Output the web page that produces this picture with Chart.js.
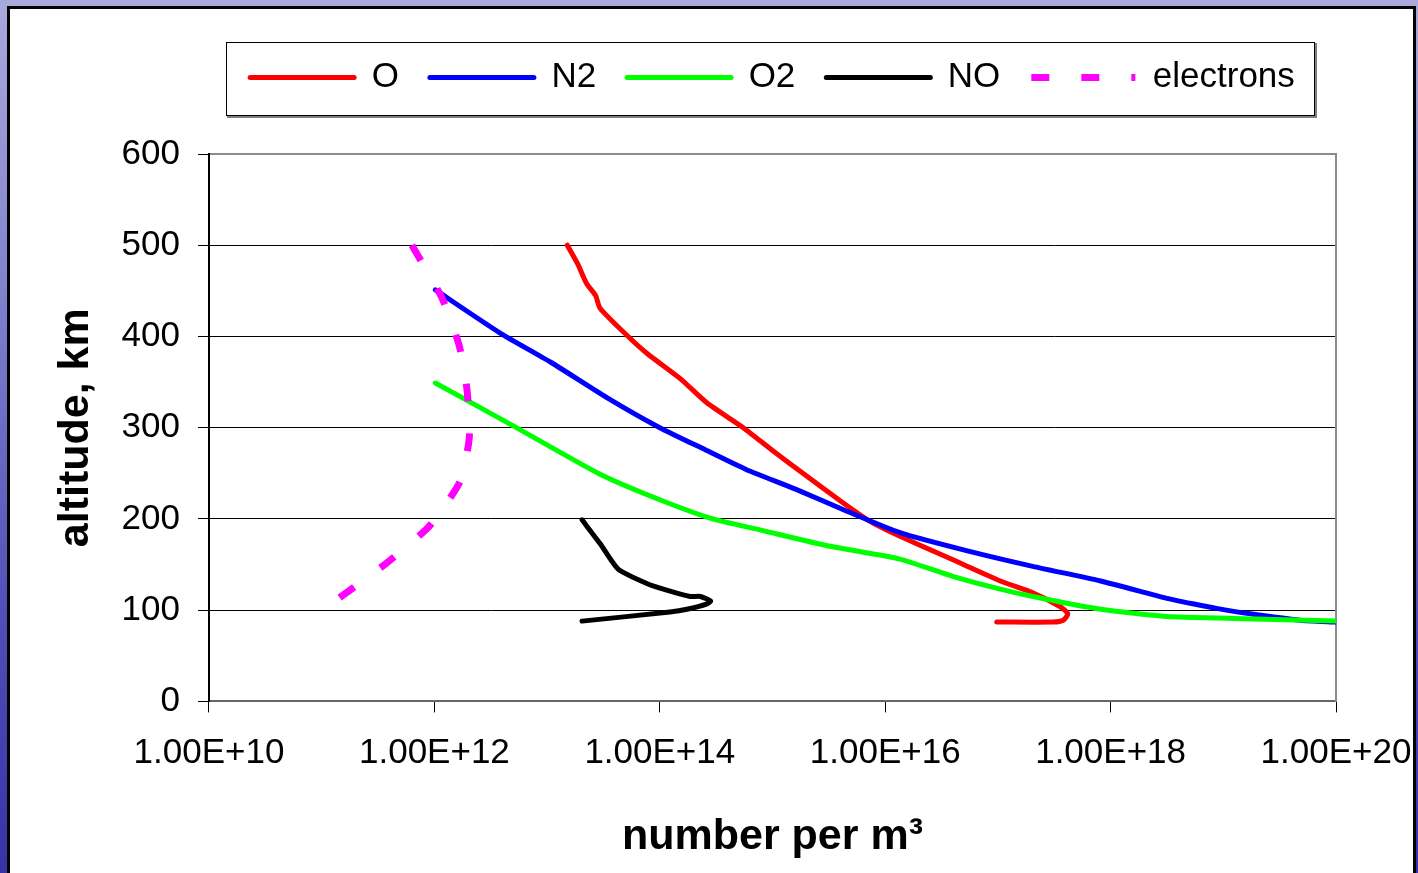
<!DOCTYPE html>
<html>
<head>
<meta charset="utf-8">
<title>Upper atmosphere composition</title>
<script src="https://cdn.jsdelivr.net/npm/chart.js@4.4.1/dist/chart.umd.min.js"></script>
<style>
  html, body { margin: 0; padding: 0; }
  body {
    width: 1418px;
    height: 873px;
    overflow: hidden;
    position: relative;
    background: linear-gradient(180deg, #a9a9dc 0%, #8585cf 30%, #5050b8 70%, #3434a6 100%);
  }
  #frame {
    position: absolute;
    left: 7px;
    top: 6px;
    width: 1403px;
    height: 900px;
    border: 3px solid #000;
    background: #fff;
    overflow: hidden;
  }
  #wrap {
    position: absolute;
    left: -10px;
    top: -9px;
    width: 1440px;
    height: 873px;
  }
</style>
</head>
<body>
<div id="frame">
  <div id="wrap"><canvas id="chart"></canvas></div>
</div>
<script>
'use strict';

// axis ticks
const xTickValues = [1e10, 1e12, 1e14, 1e16, 1e18, 1e20];
const xTickLabels = ['1.00E+10', '1.00E+12', '1.00E+14', '1.00E+16', '1.00E+18', '1.00E+20'];
const yTickValues = [0, 100, 200, 300, 400, 500, 600];

// number densities (per m^3) and altitudes (km)
const oDensity = [1.51e13, 1.86e13, 2.24e13, 2.69e13, 2.95e13, 5.13e13, 7.76e13, 1.51e14, 2.63e14, 5.50e14,
  1.00e15, 1.86e15, 3.98e15, 7.41e15, 1.35e16, 4.57e16, 1.05e17, 2.04e17, 3.55e17, 4.17e17, 3.80e17, 3.09e17, 9.77e16];
const oAltitude = [500, 480, 458, 445, 431, 401, 381, 354, 327, 300,
  275, 250, 220, 197, 181, 152, 132, 119, 104, 96, 89, 87, 87];

const n2Density = [1.02e12, 3.80e12, 1.07e13, 3.39e13, 1.00e14, 2.51e14, 5.89e14, 1.58e15, 4.47e15, 1.35e16,
  5.37e16, 2.04e17, 8.13e17, 3.16e18, 5.37e18, 8.71e18, 1.74e19, 4.79e19, 1.00e20];
const n2Altitude = [451, 404, 372, 333, 300, 276, 254, 233, 209, 185,
  165, 148, 132, 113, 107, 102, 96, 89, 87];

const o2Density = [1.02e12, 5.01e12, 2.95e13, 1.00e14, 2.95e14, 7.76e14, 3.24e15, 1.35e16, 3.98e16, 1.05e17,
  2.04e17, 8.13e17, 3.16e18, 1.23e19, 1.00e20];
const o2Altitude = [349, 302, 249, 221, 200, 188, 170, 156, 137, 123,
  115, 101, 93, 91, 88];

const noDensity = [2.04e13, 2.95e13, 4.27e13, 7.76e13, 1.15e14, 1.86e14, 2.29e14, 2.82e14, 2.63e14, 1.74e14, 1.23e14, 2.04e13];
const noAltitude = [199, 173, 145, 129, 122, 115, 115, 110, 107, 101, 98, 88];

const eDensity = [6.31e11, 1.17e12, 1.66e12, 1.95e12, 2.04e12, 1.70e12, 1.23e12, 8.71e11, 3.80e11, 1.38e11];
const eAltitude = [500, 442, 390, 341, 289, 242, 214, 190, 152, 112];

Chart.defaults.font.family = '"Liberation Sans", Arial, sans-serif';
Chart.defaults.color = '#000';

function toPoints(xs, ys) {
  return xs.map(function (x, i) { return { x: x, y: ys[i] }; });
}

function lineSet(label, color, xs, ys, order) {
  return {
    label: label,
    data: toPoints(xs, ys),
    borderColor: color,
    backgroundColor: color,
    borderWidth: 5,
    borderCapStyle: 'round',
    borderJoinStyle: 'round',
    pointRadius: 0,
    pointHoverRadius: 0,
    pointStyle: 'line',
    showLine: true,
    tension: 0.2,
    order: order,
  };
}

const electrons = lineSet('electrons', '#ff00ff', eDensity, eAltitude, 1);
electrons.borderWidth = 7;
electrons.borderDash = [18, 32];
electrons.borderDashOffset = 0;
electrons.borderCapStyle = 'butt';

// legend items take their look from the point style, so copy the line style back in
function legendLabels(chart) {
  const items = Chart.defaults.plugins.legend.labels.generateLabels(chart);
  items.forEach(function (item) {
    const ds = chart.data.datasets[item.datasetIndex];
    item.strokeStyle = ds.borderColor;
    item.lineWidth = ds.borderWidth;
    item.lineCap = ds.borderCapStyle;
    item.lineDash = ds.borderDash || [];
    item.lineDashOffset = ds.borderDashOffset || 0;
  });
  return items;
}

// box drawn round the legend, as in the spreadsheet original
const legendFrame = {
  id: 'legendFrame',
  afterDraw: function (chart) {
    const boxes = chart.legend && chart.legend.legendHitBoxes;
    if (!boxes || !boxes.length) return;
    const first = boxes[0];
    const last = boxes[boxes.length - 1];
    const left = Math.round(first.left - 24);
    const right = Math.round(last.left + last.width + 19);
    const top = Math.round(first.top - 18);
    const bottom = Math.round(first.top + first.height + 20);
    const ctx = chart.ctx;
    ctx.save();
    ctx.strokeStyle = '#000';
    ctx.lineWidth = 1;
    ctx.strokeRect(left + 0.5, top + 0.5, right - left, bottom - top);
    ctx.strokeStyle = '#808080';
    ctx.lineWidth = 2;
    ctx.beginPath();
    ctx.moveTo(left + 1, bottom + 2);
    ctx.lineTo(right + 2, bottom + 2);
    ctx.lineTo(right + 2, top + 1);
    ctx.stroke();
    ctx.restore();
  },
};

const ctx = document.getElementById('chart').getContext('2d');
new Chart(ctx, {
  type: 'scatter',
  data: {
    datasets: [
      lineSet('O', '#ff0000', oDensity, oAltitude, 5),
      lineSet('N2', '#0000ff', n2Density, n2Altitude, 4),
      lineSet('O2', '#00ff00', o2Density, o2Altitude, 3),
      lineSet('NO', '#000000', noDensity, noAltitude, 2),
      electrons,
    ],
  },
  options: {
    responsive: true,
    maintainAspectRatio: false,
    animation: false,
    layout: {
      padding: { left: 40, right: 104, top: 29, bottom: 0 },
    },
    plugins: {
      tooltip: { enabled: false },
      legend: {
        position: 'top',
        fullSize: false,
        labels: {
          usePointStyle: true,
          pointStyle: 'line',
          pointStyleWidth: 104,
          padding: 31,
          color: '#000',
          font: { size: 35 },
          generateLabels: legendLabels,
          sort: function (a, b) { return a.datasetIndex - b.datasetIndex; },
        },
      },
    },
    scales: {
      x: {
        type: 'logarithmic',
        position: 'bottom',
        min: 1e10,
        max: 1e20,
        afterBuildTicks: function (scale) {
          scale.ticks = xTickValues.map(function (v) { return { value: v }; });
        },
        ticks: {
          autoSkip: false,
          maxRotation: 0,
          color: '#000',
          font: { size: 35 },
          padding: 20,
          callback: function (value, index) { return xTickLabels[index]; },
        },
        grid: {
          drawOnChartArea: false,
          drawTicks: true,
          tickLength: 11,
          tickColor: '#000',
        },
        border: { color: '#666', width: 2 },
        title: {
          display: true,
          text: 'number per m³',
          color: '#000',
          font: { size: 43, weight: 'bold' },
          padding: { top: 17, bottom: 10 },
        },
      },
      xTop: {
        type: 'linear',
        position: 'top',
        ticks: { display: false },
        grid: {
          drawOnChartArea: false,
          drawTicks: true,
          tickLength: 49,
          tickColor: 'rgba(0,0,0,0)',
        },
        border: { color: '#8c8c8c', width: 2 },
      },
      y: {
        type: 'linear',
        min: 0,
        max: 600,
        afterBuildTicks: function (scale) {
          scale.ticks = yTickValues.map(function (v) { return { value: v }; });
        },
        ticks: {
          color: '#000',
          font: { size: 35 },
          padding: 18,
        },
        grid: {
          color: function (c) {
            const v = c.tick ? c.tick.value : null;
            return (v === 0 || v === 600) ? 'rgba(0,0,0,0)' : '#000';
          },
          tickColor: '#000',
          tickLength: 11,
          lineWidth: 1,
        },
        border: { color: '#000', width: 2 },
        title: {
          display: true,
          text: 'altitude, km',
          color: '#000',
          font: { size: 43, weight: 'bold' },
          padding: { top: 10, bottom: 2 },
        },
      },
      yRight: {
        type: 'linear',
        position: 'right',
        ticks: { display: false },
        grid: { drawOnChartArea: false, drawTicks: false },
        border: { color: '#8c8c8c', width: 2 },
      },
    },
  },
  plugins: [legendFrame],
});
</script>
</body>
</html>
